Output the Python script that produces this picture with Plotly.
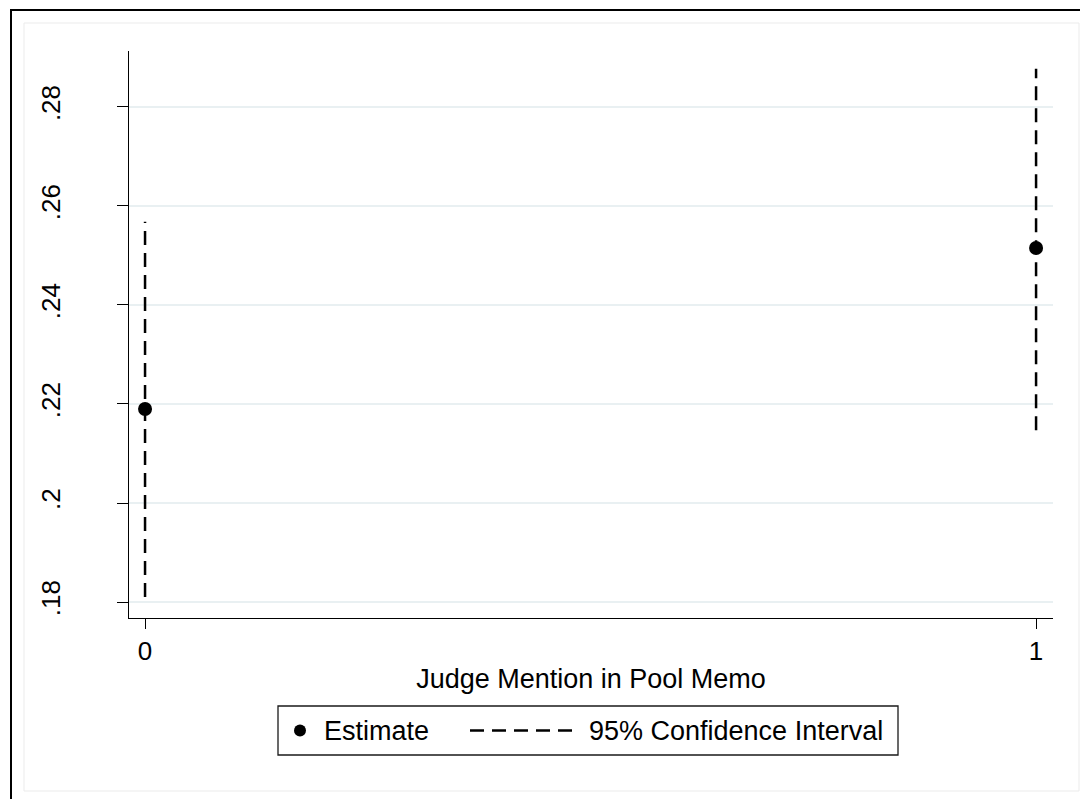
import plotly.graph_objects as go

# Estimates and 95% confidence bounds by judge mention
categories = [0, 1]
estimates = [0.219, 0.2515]
ci_lower = [0.181, 0.2147]
ci_upper = [0.2568, 0.2877]

y_ticks = [0.18, 0.20, 0.22, 0.24, 0.26, 0.28]
y_tick_labels = [".18", ".2", ".22", ".24", ".26", ".28"]
x_ticks = [0, 1]
x_tick_labels = ["0", "1"]

legend_labels = ["Estimate", "95% Confidence Interval"]

W, H = 1080, 799
L, R, T, B = 129, 27, 51, 181
PW, PH = W - L - R, H - T - B


def px_x(px):
    return (px - L) / PW


def px_y(py):
    return (H - B - py) / PH


FONT = "Liberation Sans, Arial, Helvetica, sans-serif"
CI_DASH = "14px,8px"

# vertical CI segments, one per category, broken by None
ci_x, ci_y = [], []
for c, lo, hi in zip(categories, ci_lower, ci_upper):
    ci_x += [c, c, None]
    ci_y += [lo, hi, None]

fig = go.Figure()
fig.add_trace(go.Scatter(
    x=ci_x, y=ci_y, mode="lines", name=legend_labels[1],
    line=dict(color="black", width=2.5, dash=CI_DASH),
    hoverinfo="skip", showlegend=False,
))
fig.add_trace(go.Scatter(
    x=categories, y=estimates, mode="markers", name=legend_labels[0],
    marker=dict(color="black", size=14, symbol="circle"),
    showlegend=False,
))

# legend box geometry (pixels)
LEG_L, LEG_R, LEG_T, LEG_B = 278, 898, 706, 755
LEG_MID = (LEG_T + LEG_B) / 2

shapes = [
    # faint inner graph region outline
    dict(type="rect", xref="paper", yref="paper",
         x0=px_x(24), x1=px_x(1079), y0=px_y(791), y1=px_y(23),
         line=dict(color="#ebebeb", width=1), fillcolor="rgba(0,0,0,0)",
         layer="below"),
    # outer frame (left and top edges)
    dict(type="line", xref="paper", yref="paper",
         x0=px_x(11), x1=px_x(11), y0=px_y(801), y1=px_y(10),
         line=dict(color="black", width=2)),
    dict(type="line", xref="paper", yref="paper",
         x0=px_x(10), x1=px_x(1082), y0=px_y(10), y1=px_y(10),
         line=dict(color="black", width=2)),
    # legend frame
    dict(type="rect", xref="paper", yref="paper",
         x0=px_x(LEG_L), x1=px_x(LEG_R), y0=px_y(LEG_B), y1=px_y(LEG_T),
         line=dict(color="#1a1a1a", width=1.3), fillcolor="white"),
    # legend key: estimate dot
    dict(type="circle", xref="paper", yref="paper",
         xsizemode="pixel", ysizemode="pixel",
         xanchor=px_x(300), yanchor=px_y(LEG_MID),
         x0=-6, x1=6, y0=-6, y1=6,
         line=dict(color="black", width=0), fillcolor="black"),
    # legend key: dashed CI line
    dict(type="line", xref="paper", yref="paper",
         x0=px_x(470), x1=px_x(576), y0=px_y(LEG_MID), y1=px_y(LEG_MID),
         line=dict(color="black", width=2.5, dash=CI_DASH)),
]

annotations = [
    dict(text=legend_labels[0], xref="paper", yref="paper",
         x=px_x(322), y=px_y(LEG_MID), xanchor="left", yanchor="middle",
         showarrow=False, font=dict(family=FONT, size=27, color="black")),
    dict(text=legend_labels[1], xref="paper", yref="paper",
         x=px_x(587), y=px_y(LEG_MID), xanchor="left", yanchor="middle",
         showarrow=False, font=dict(family=FONT, size=27, color="black")),
]

fig.update_layout(
    width=W, height=H,
    margin=dict(l=L, r=R, t=T, b=B, pad=0),
    paper_bgcolor="white", plot_bgcolor="white",
    font=dict(family=FONT, size=26, color="black"),
    shapes=shapes,
    annotations=annotations,
    showlegend=False,
    xaxis=dict(
        range=[-0.018, 1.019],
        tickmode="array", tickvals=x_ticks, ticktext=x_tick_labels,
        ticks="outside", ticklen=10, tickwidth=1, tickcolor="black",
        showline=True, linecolor="black", linewidth=1,
        showgrid=False, zeroline=False,
        tickfont=dict(size=26),
        title=dict(text="Judge Mention in Pool Memo", standoff=3,
                   font=dict(size=27)),
    ),
    yaxis=dict(
        range=[0.17677, 0.2913],
        tickmode="array", tickvals=y_ticks, ticktext=y_tick_labels,
        ticks="outside", ticklen=11, tickwidth=1, tickcolor="black",
        tickangle=-90, ticklabelstandoff=47,
        showline=True, linecolor="black", linewidth=1,
        showgrid=True, gridcolor="#e9f0f2", gridwidth=2,
        zeroline=False,
        tickfont=dict(size=26),
    ),
)

fig.write_html("out.html")
